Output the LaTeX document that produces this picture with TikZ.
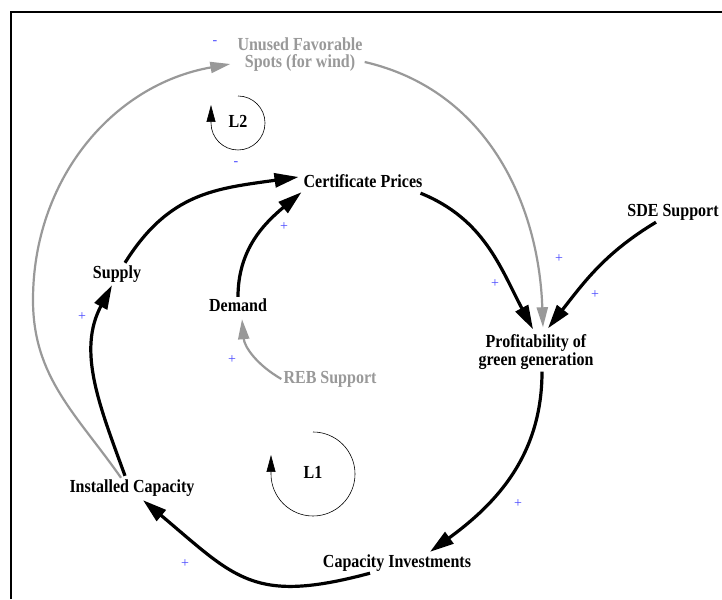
\documentclass[tikz,border=0pt]{standalone}
\usepackage{fontspec}
\setmainfont{Liberation Serif}
\newfontfamily\varfam{Liberation Serif}[FakeStretch=0.87]
\usetikzlibrary{arrows.meta}
\definecolor{linkgray}{HTML}{999999}
\definecolor{polblue}{HTML}{4646FF}

\begin{document}
\begin{tikzpicture}[x=1pt, y=1pt,
        vfont/.style={font=\varfam\bfseries\fontsize{18.4}{18}\selectfont},
        var/.style={vfont, inner sep=2pt, text height=12.5pt, text depth=3.5pt},
        var2/.style={vfont, inner sep=2pt, align=center},
        lk/.style={line width=3.2pt, -{Triangle[length=24pt, width=14pt]}},
        glk/.style={line width=2.2pt, draw=linkgray, -{Triangle[length=20pt, width=11pt]}},
        lp/.style={line width=0.6pt, -{Triangle[length=17pt, width=9pt]}},
        pol/.style={text=polblue, font=\fontsize{14}{14}\selectfont, inner sep=0pt}]
  \useasboundingbox (0,0) rectangle (722,599);
  \fill[white] (0,0) rectangle (722,599);
  \draw[line width=2.5pt] (11,0) -- (11,587) -- (722,587);

  \node[var2, text=linkgray, font=\varfam\bfseries\fontsize{18.4}{17}\selectfont] (unused) at (300,544)
        {Unused Favorable\\Spots (for wind)};
  \node[var] (cert) at (363,416) {Certificate Prices};
  \node[var] (sde) at (673,387) {SDE Support};
  \node[var] (supply) at (117,325) {Supply};
  \node[var] (demand) at (238,292) {Demand};
  \node[var2] (profit) at (536,247) {Profitability of\\green generation};
  \node[var, text=linkgray] (reb) at (330,220) {REB Support};
  \node[var] (inst) at (132,111) {Installed Capacity};
  \node[var] (capinv) at (397,36) {Capacity Investments};
  \node[var] (ltwo) at (238,476) {L2};
  \node[var] (lone) at (313,125) {L1};
  \coordinate (gbend) at (33,299);

  \draw[lk] ([xshift=-4pt]cert.south east) to[out=-22, in=118] ([xshift=-3pt, yshift=3pt]profit.north);
  \draw[lk] ([xshift=-17pt]sde.south) to[out=211, in=52] ([xshift=12pt, yshift=4pt]profit.north);
  \draw[glk] ([yshift=-7pt]unused.east) to[out=-13, in=92] ([xshift=7pt, yshift=5pt]profit.north);
  \draw[glk] ([xshift=-11pt]inst.north) to[out=125, in=-90] (gbend)
        to[out=90, in=190] ([xshift=-5pt, yshift=-9pt]unused.west);
  \draw[lk] ([xshift=-7pt, yshift=2pt]inst.north) to[out=110, in=-118] ([xshift=-5pt, yshift=-1pt]supply.south);
  \draw[lk] ([xshift=8pt, yshift=1pt]supply.north) to[out=58, in=188, looseness=1.1] ([xshift=-3pt, yshift=6pt]cert.west);
  \draw[lk] (demand.north) to[out=90, in=220] ([yshift=1pt]cert.south west);
  \draw[glk] (reb.west) to[out=150, in=-85] ([xshift=4pt, yshift=-2pt]demand.south);
  \draw[lk] ([xshift=6pt]profit.south) to[out=-90, in=36] ([xshift=33pt, yshift=1pt]capinv.north);
  \draw[lk] ([xshift=-27pt]capinv.south) to[out=195, in=-40, looseness=1.3] ([xshift=11pt, yshift=-2pt]inst.south);

  \draw[lp] ([yshift=27pt]ltwo.center) arc[start angle=90, end angle=-180, radius=27] -- ++(0,18);
  \draw[lp] ([yshift=42pt]lone.center) arc[start angle=90, end angle=-180, radius=42] -- ++(0,19);

  \node[pol] (m1) at (215,556) {-};
  \node[pol] (m2) at (236,435) {-};
  \node[pol] (p1) at (284,372) {+};
  \node[pol] (p2) at (495,315) {+};
  \node[pol] (p3) at (559,340) {+};
  \node[pol] (p4) at (595,304) {+};
  \node[pol] (p5) at (82,282) {+};
  \node[pol] (p6) at (232,239) {+};
  \node[pol] (p7) at (518,95) {+};
  \node[pol] (p8) at (185,35) {+};
\end{tikzpicture}
\end{document}
